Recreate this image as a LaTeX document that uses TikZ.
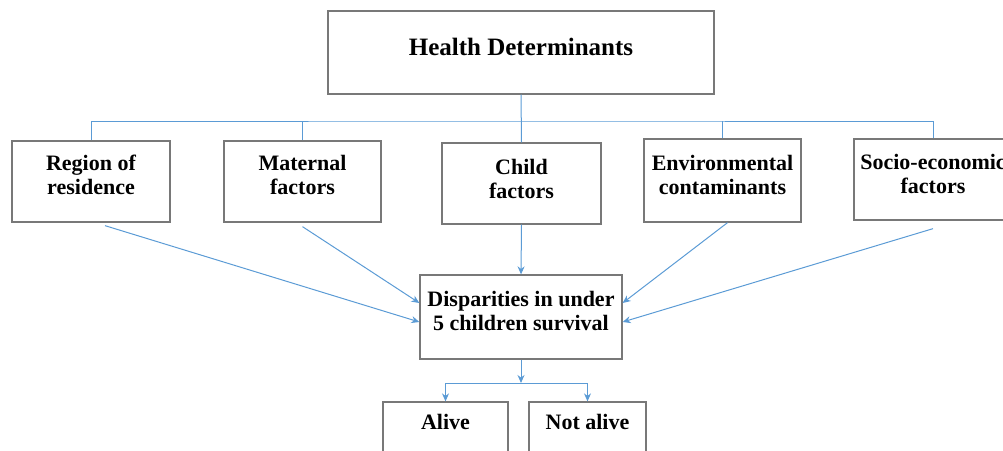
\documentclass[tikz,border=0pt]{standalone}
\usepackage{fontspec}
\setmainfont{Liberation Serif}
\usetikzlibrary{arrows.meta}
\definecolor{lineblue}{RGB}{91,155,213}
\definecolor{boxgray}{RGB}{120,120,120}
\begin{document}
\begin{tikzpicture}[x=1pt,y=-1pt,
  box/.style={draw=boxgray,line width=1.3pt,rectangle,inner sep=0pt},
  lbl/.style={font=\bfseries\fontsize{22}{24}\selectfont,align=center,inner sep=0pt,text=black},
  conn/.style={draw=lineblue,line width=1pt},
  arr/.style={conn,-{Stealth[length=8pt,width=7pt]}}]
\useasboundingbox (0,0) rectangle (1003,450);
\clip (0,0) rectangle (1003,450);
% boxes
\node[box,minimum width=386pt,minimum height=83pt] (H) at (521,52.5) {};
\node[box,minimum width=158pt,minimum height=81pt] (R) at (91,181.5) {};
\node[box,minimum width=157pt,minimum height=81pt] (M) at (302.5,181.5) {};
\node[box,minimum width=159pt,minimum height=81pt] (C) at (521.5,183.5) {};
\node[box,minimum width=157pt,minimum height=83pt] (E) at (722.5,180.5) {};
\node[box,minimum width=158pt,minimum height=81pt] (S) at (933,179.5) {};
\node[box,minimum width=202pt,minimum height=84pt] (D) at (521,317) {};
\node[box,minimum width=125pt,minimum height=80pt] (A) at (445.5,442) {};
\node[box,minimum width=117pt,minimum height=80pt] (N) at (587.5,442) {};
% labels
\node[lbl,font=\bfseries\fontsize{25}{28}\selectfont] (Ht) at ([yshift=5.5pt]H.center) {Health Determinants};
\node[lbl] (Rt) at ([yshift=6.5pt]R.center) {Region of\\residence};
\node[lbl] (Mt) at ([yshift=6.5pt]M.center) {Maternal\\factors};
\node[lbl] (Ct) at ([yshift=5pt]C.center) {Child\\factors};
\node[lbl] (Et) at ([yshift=5.5pt]E.center) {Environmental\\contaminants};
\node[lbl] (St) at ([yshift=5.5pt]S.center) {Socio-economic\\factors};
\node[lbl] (Dt) at ([yshift=6pt]D.center) {Disparities in under\\5 children survival};
\node[lbl] (At) at (A.north |- 0,422) {Alive};
\node[lbl] (Nt) at (N.north |- 0,422) {Not alive};
% tree connectors
\coordinate (bus) at (521,121);
\draw[conn] (H.south) -- (C.north);
\draw[conn] (R.north) |- (bus) -| (S.north);
\draw[conn] (M.north) -- (M.north |- bus);
\draw[conn] (E.north) -- (E.north |- bus);
% converging arrows
\draw[arr] ([xshift=14pt,yshift=-3pt]R.south) -- ([yshift=-5pt]D.west);
\draw[arr] ([yshift=-4pt]M.south) -- ([yshift=14pt]D.west);
\draw[arr] (C.south) -- (D.north);
\draw[arr] ([xshift=5pt]E.south) -- ([yshift=14pt]D.east);
\draw[arr] ([yshift=-8pt]S.south) -- ([yshift=-5pt]D.east);
% split
\coordinate (split) at (521,383);
\draw[arr] (D.south) -- (split);
\draw[arr] (split) -| (A.north);
\draw[arr] (split) -| (N.north);
\end{tikzpicture}
\end{document}
